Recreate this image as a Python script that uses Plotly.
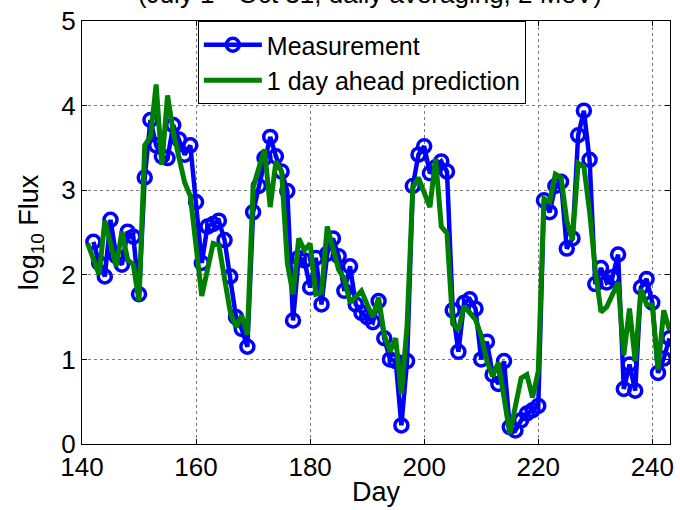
import plotly.graph_objects as go

meas_days = list(range(142, 244))
meas_vals = [
    2.39, 2.14, 1.98, 2.65, 2.22, 2.12, 2.51, 2.45, 1.77, 3.15,   # 142-151
    3.83, 3.53, 3.40, 3.38, 3.77, 3.60, 3.42, 3.53, 2.86, 2.14,   # 152-161
    2.57, 2.60, 2.64, 2.41, 1.98, 1.50, 1.36, 1.15, 2.74, 3.05,   # 162-171
    3.38, 3.63, 3.40, 3.22, 2.99, 1.46, 2.20, 2.17, 1.85, 2.20,   # 172-181
    1.65, 2.25, 2.43, 2.22, 1.81, 2.10, 1.65, 1.55, 1.50, 1.44,   # 182-191
    1.69, 1.25, 1.00, 0.98, 0.22, 0.98, 3.05, 3.42, 3.52, 3.20,   # 192-201
    3.27, 3.34, 3.22, 1.58, 1.09, 1.67, 1.71, 1.60, 1.00, 1.21,   # 202-211
    0.82, 0.71, 0.98, 0.20, 0.16, 0.28, 0.36, 0.40, 0.45, 2.88,   # 212-221
    2.74, 3.05, 3.10, 2.31, 2.43, 3.65, 3.94, 3.36, 1.89, 2.08,   # 222-231
    1.91, 1.97, 2.24, 0.65, 0.94, 0.63, 1.85, 1.95, 1.67, 0.84,   # 232-241
    1.01, 1.25,                                                   # 242-243
]

pred_days = list(range(141, 244))
pred_vals = [
    2.37, 2.18, 2.00, 2.64, 2.37, 2.10, 2.51, 2.18, 2.12, 1.69,   # 141-150
    3.53, 3.63, 4.25, 3.30, 4.12, 3.69, 3.39, 3.09, 2.93, 2.30,   # 151-160
    1.75, 2.06, 2.37, 2.35, 1.95, 1.56, 1.38, 1.52, 1.29, 3.03,   # 161-170
    3.26, 3.48, 2.80, 3.34, 3.22, 2.14, 1.77, 2.43, 2.29, 2.37,   # 171-180
    1.77, 1.79, 2.57, 2.29, 2.06, 1.95, 1.67, 1.74, 1.81, 1.65,   # 181-190
    1.50, 1.73, 1.29, 1.09, 1.25, 0.59, 1.40, 3.03, 3.15, 2.97,   # 191-200
    2.80, 3.37, 2.57, 2.49, 1.42, 1.35, 1.63, 1.55, 1.47, 1.28,   # 201-210
    0.98, 0.80, 0.96, 0.55, 0.12, 0.45, 0.78, 0.82, 0.55, 0.86,   # 211-220
    2.90, 2.86, 3.19, 3.15, 2.64, 2.41, 3.32, 3.28, 2.75, 2.06,   # 221-230
    1.56, 1.62, 1.76, 1.91, 1.05, 1.60, 0.98, 1.83, 1.65, 1.64,   # 231-240
    0.88, 1.58, 1.35,                                             # 241-243
]

x_ticks = [140, 160, 180, 200, 220, 240]
y_ticks = [0, 1, 2, 3, 4, 5]

FONT = "Liberation Sans, Arial, sans-serif"

fig = go.Figure()
fig.add_trace(go.Scatter(
    x=meas_days, y=meas_vals, mode="lines+markers", name="Measurement",
    line=dict(color="#0000FF", width=4.5),
    marker=dict(symbol="circle-open", size=13, color="#0000FF",
                line=dict(width=3.5, color="#0000FF")),
))
fig.add_trace(go.Scatter(
    x=pred_days, y=pred_vals, mode="lines", name="1 day ahead prediction",
    line=dict(color="#008000", width=5),
))

axis_common = dict(
    showline=True, linecolor="black", linewidth=1, mirror="ticks",
    ticks="inside", ticklen=5, tickcolor="black",
    showgrid=True, gridcolor="#7a7a7a", griddash="dot", gridwidth=1,
    zeroline=False, tickfont=dict(family=FONT, size=26, color="black"),
    ticklabeloverflow="allow",
)

fig.update_layout(
    width=680, height=510,
    margin=dict(l=82, r=6, t=14, b=66),
    paper_bgcolor="white", plot_bgcolor="white",
    font=dict(family=FONT, color="black"),
    xaxis=dict(range=[140, 243.1], tickvals=x_ticks,
               title=dict(text="Day", font=dict(family=FONT, size=27), standoff=0),
               **axis_common),
    yaxis=dict(range=[0, 5], tickvals=y_ticks,
               title=dict(text="log<sub>10</sub> Flux", font=dict(family=FONT, size=27), standoff=14),
               **axis_common),
    legend=dict(x=0.197, y=1, xanchor="left", yanchor="top",
                bgcolor="white", bordercolor="black", borderwidth=1,
                font=dict(family=FONT, size=25, color="black"),
                itemwidth=58, tracegroupgap=0),
    showlegend=True,
)

fig.add_annotation(
    text="(July 1 - Oct 31, daily averaging, 2 MeV)",
    xref="paper", yref="paper", x=0.49, y=1.023, xanchor="center", yanchor="bottom",
    showarrow=False, font=dict(family=FONT, size=26, color="black"),
)

fig.write_html("out.html")
